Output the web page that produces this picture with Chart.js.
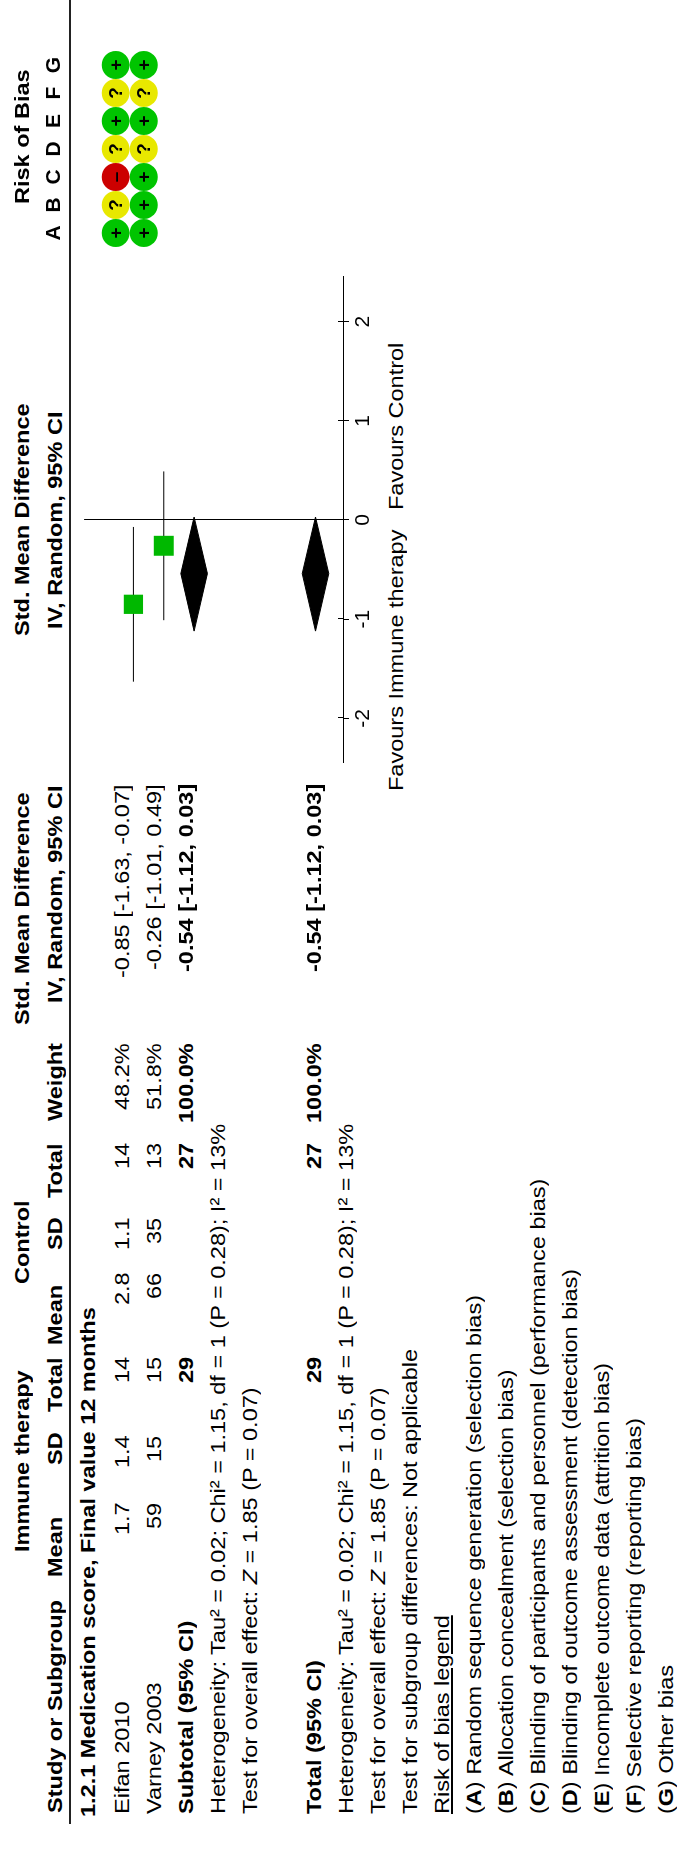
<!DOCTYPE html>
<html>
<head>
<meta charset="utf-8">
<script src="https://cdn.jsdelivr.net/npm/chart.js@4.4.0/dist/chart.umd.min.js"></script>
<style>
html, body { margin: 0; padding: 0; background: #fff; }
body { width: 680px; height: 1852px; overflow: hidden; position: relative; }
#stage {
  position: absolute; left: 0; top: 0; width: 1852px; height: 680px;
  transform-origin: 0 0; transform: translate(0, 1852px) rotate(-90deg);
  font-family: "Liberation Sans", Arial, sans-serif; color: #000;
}
.t { position: absolute; white-space: nowrap; font-size: 21px; line-height: 24px; transform-origin: 0 50%; }
.b { font-weight: bold; }
.u { text-decoration: underline; }
#rule { position: absolute; left: 28px; top: 69px; width: 1824px; height: 2px; background: #222; }
.cw { position: absolute; }
.cw canvas { display: block; }
</style>
</head>
<body>
<div id="stage">
  <div id="rule"></div>
  <div class="cw" style="left:1069px; top:70px;"><canvas id="forest" width="526" height="313"></canvas></div>
  <div class="cw" style="left:1591px; top:30px;"><canvas id="bias" width="224" height="156"></canvas></div>
</div>
<script>
// data
const studies = ['Eifan 2010', 'Varney 2003'];
const expMean = ['1.7', '59'];
const expSD = ['1.4', '15'];
const expTotal = [14, 15];
const ctlMean = ['2.8', '66'];
const ctlSD = ['1.1', '35'];
const ctlTotal = [14, 13];
const weights = [48.2, 51.8];
const smd = [-0.85, -0.26];
const ciLow = [-1.63, -1.01];
const ciHigh = [-0.07, 0.49];
const pooledSmd = -0.54, pooledLow = -1.12, pooledHigh = 0.03;
const xTicks = [-2, -1, 0, 1, 2];
const biasDomains = ['A', 'B', 'C', 'D', 'E', 'F', 'G'];
const biasEifan = ['+', '?', '-', '?', '+', '?', '+'];
const biasVarney = ['+', '+', '+', '?', '+', '?', '+'];
const biasLegend = [
  'Random sequence generation (selection bias)',
  'Allocation concealment (selection bias)',
  'Blinding of participants and personnel (performance bias)',
  'Blinding of outcome assessment (detection bias)',
  'Incomplete outcome data (attrition bias)',
  'Selective reporting (reporting bias)',
  'Other bias'
];
const hetText = 'Heterogeneity: Tau² = 0.02; Chi² = 1.15, df = 1 (P = 0.28); I² = 13%';
const effText = 'Test for overall effect: <i>Z</i> = 1.85 (P = 0.07)';

// layout
const FONT = '"Liberation Sans", Arial, sans-serif';
const S = 1.12;          // horizontal text stretch
const PITCH = 32;
const rowY = n => 122 + (n - 1) * PITCH;
const stage = document.getElementById('stage');
const items = [];

function put(html, x, y, align, cls) {
  const d = document.createElement('div');
  d.className = 't ' + (cls || '');
  d.innerHTML = html;
  d.style.top = (y - 12) + 'px';
  stage.appendChild(d);
  items.push({ d, x, align });
}

const fmt = v => v.toFixed(2);
const ciStr = (e, l, h) => fmt(e) + ' [' + fmt(l) + ', ' + fmt(h) + ']';

// headers
put('Immune therapy', 391, 22, 'center', 'b');
put('Control', 610, 22, 'center', 'b');
put('Std. Mean Difference', 1060, 22, 'right', 'b');
put('Std. Mean Difference', 1332, 22, 'center', 'b');
put('Risk of Bias', 1715, 22, 'center', 'b');
put('Study or Subgroup', 39, 55, 'left', 'b');
put('Mean', 335, 55, 'right', 'b');
put('SD', 419, 55, 'right', 'b');
put('Total', 495, 55, 'right', 'b');
put('Mean', 567, 55, 'right', 'b');
put('SD', 634, 55, 'right', 'b');
put('Total', 709, 55, 'right', 'b');
put('Weight', 809, 55, 'right', 'b');
put('IV, Random, 95% CI', 1066, 55, 'right', 'b');
put('IV, Random, 95% CI', 1332, 55, 'center', 'b');

put('1.2.1 Medication score, Final value 12 months', 35, rowY(0) - 2, 'left', 'b');
studies.forEach((s, i) => {
  const y = rowY(i + 1);
  put(s, 38, y, 'left');
  put(expMean[i], 349, y, 'right');
  put(expSD[i], 416, y, 'right');
  put(String(expTotal[i]), 495, y, 'right');
  put(ctlMean[i], 579, y, 'right');
  put(ctlSD[i], 634, y, 'right');
  put(String(ctlTotal[i]), 709, y, 'right');
  put(weights[i].toFixed(1) + '%', 809, y, 'right');
  put(ciStr(smd[i], ciLow[i], ciHigh[i]), 1068, y, 'right');
});
const sumExp = expTotal.reduce((a, b) => a + b, 0);
const sumCtl = ctlTotal.reduce((a, b) => a + b, 0);
[3, 7].forEach(r => {
  const y = rowY(r);
  put(r === 3 ? 'Subtotal (95% CI)' : 'Total (95% CI)', 38, y, 'left', 'b');
  put(String(sumExp), 495, y, 'right', 'b');
  put(String(sumCtl), 709, y, 'right', 'b');
  put('100.0%', 809, y, 'right', 'b');
  put(ciStr(pooledSmd, pooledLow, pooledHigh), 1068, y, 'right', 'b');
});
put(hetText, 38, rowY(4), 'left');
put(effText, 38, rowY(5), 'left');
put(hetText, 38, rowY(8), 'left');
put(effText, 38, rowY(9), 'left');
put('Test for subgroup differences: Not applicable', 38, rowY(10), 'left');
put('Risk of bias legend', 38, rowY(11), 'left', 'u');
biasLegend.forEach((t, i) => {
  put('(<b>' + biasDomains[i] + '</b>) ' + t, 38, rowY(12 + i), 'left');
});
put('Favours Immune therapy', 1322, 396, 'right');
put('Favours Control', 1342, 396, 'left');

items.forEach(({ d, x, align }) => {
  const w = d.offsetWidth * S;
  let left = x;
  if (align === 'right') left = x - w;
  if (align === 'center') left = x - w / 2;
  d.style.left = left + 'px';
  d.style.transform = 'scaleX(' + S + ')';
});

// forest plot
const yTop = -0.625, yAxis = 7.906;
const diamondH = 0.4375;
function diamond(est, lo, hi, r) {
  return [
    { x: lo, y: r }, { x: est, y: r - diamondH }, { x: hi, y: r },
    { x: est, y: r + diamondH }, { x: lo, y: r }
  ];
}
const fpData = [
  {
    data: studies.map((s, i) => ({ x: smd[i], y: i + 1 })),
    pointStyle: 'rect',
    pointRadius: weights.map(w => 19.6 * Math.sqrt(w / 100)),
    backgroundColor: '#00b800',
    borderWidth: 0
  }
];
studies.forEach((s, i) => {
  fpData.push({
    data: [{ x: ciLow[i], y: i + 1 }, { x: ciHigh[i], y: i + 1 }],
    showLine: true, pointRadius: 0, borderColor: '#000', borderWidth: 1
  });
});
[3, 7].forEach(r => {
  fpData.push({
    data: diamond(pooledSmd, pooledLow, pooledHigh, r),
    showLine: true, pointRadius: 0, borderColor: '#000', borderWidth: 1,
    backgroundColor: '#000', fill: 'shape', tension: 0
  });
});

// small tick marks that cross the axis line, like the original
const crossTicks = {
  id: 'crossTicks',
  afterDraw(chart) {
    const sx = chart.scales.x, ctx = chart.ctx, y = chart.chartArea.bottom;
    ctx.save();
    ctx.strokeStyle = '#000';
    ctx.lineWidth = 1;
    xTicks.forEach(v => {
      const px = Math.round(sx.getPixelForValue(v)) + 0.5;
      ctx.beginPath();
      ctx.moveTo(px, y - 5);
      ctx.lineTo(px, y);
      ctx.stroke();
    });
    ctx.restore();
  }
};

new Chart(document.getElementById('forest'), {
  type: 'scatter',
  data: { datasets: fpData },
  options: {
    responsive: false,
    animation: false,
    layout: { padding: { left: 20, right: 20, top: 0, bottom: 0 } },
    plugins: { legend: { display: false }, tooltip: { enabled: false } },
    scales: {
      x: {
        type: 'linear', min: -2.45, max: 2.45, position: 'bottom',
        afterBuildTicks: s => { s.ticks = xTicks.map(v => ({ value: v })); },
        afterFit: s => { s.height = 40; },
        grid: {
          color: c => (c.tick && c.tick.value === 0 ? '#000' : 'rgba(0,0,0,0)'),
          tickColor: '#000', tickLength: 6, lineWidth: 1
        },
        border: { color: '#000', width: 1 },
        ticks: { font: { family: FONT, size: 21 }, color: '#000', padding: 2, maxRotation: 0, autoSkip: false }
      },
      y: { type: 'linear', display: false, reverse: true, min: yTop, max: yAxis }
    }
  },
  plugins: [crossTicks]
});

// risk of bias
const biasColor = { '+': '#00c400', '?': '#e8e800', '-': '#cc0000' };
const biasRows = [biasEifan, biasVarney];
const symbolPlugin = {
  id: 'biasSymbols',
  afterDatasetsDraw(chart) {
    const ctx = chart.ctx;
    ctx.save();
    ctx.fillStyle = '#000';
    ctx.font = 'bold 19px ' + FONT;
    ctx.textAlign = 'center';
    ctx.textBaseline = 'middle';
    chart.data.datasets.forEach((ds, di) => {
      chart.getDatasetMeta(di).data.forEach((pt, i) => {
        const sym = biasRows[di][i] === '-' ? '–' : biasRows[di][i];
        ctx.fillText(sym, pt.x, pt.y + 1);
      });
    });
    ctx.restore();
  }
};

new Chart(document.getElementById('bias'), {
  type: 'scatter',
  data: {
    datasets: biasRows.map((row, r) => ({
      data: row.map((v, i) => ({ x: i, y: r + 1 })),
      pointRadius: 14,
      backgroundColor: row.map(v => biasColor[v]),
      borderWidth: 0
    }))
  },
  options: {
    responsive: false,
    animation: false,
    layout: { padding: 0 },
    plugins: { legend: { display: false }, tooltip: { enabled: false } },
    scales: {
      x: {
        type: 'linear', min: -0.5, max: 6.5, position: 'top',
        afterBuildTicks: s => { s.ticks = biasDomains.map((d, i) => ({ value: i })); },
        afterFit: s => { s.height = 40; },
        grid: { display: false, drawTicks: false },
        border: { display: false },
        ticks: {
          callback: v => biasDomains[v],
          font: { family: FONT, size: 21, weight: 'bold' }, color: '#000', padding: 3, maxRotation: 0, autoSkip: false
        }
      },
      y: { type: 'linear', display: false, reverse: true, min: yTop, max: 3 }
    }
  },
  plugins: [symbolPlugin]
});
</script>
</body>
</html>
